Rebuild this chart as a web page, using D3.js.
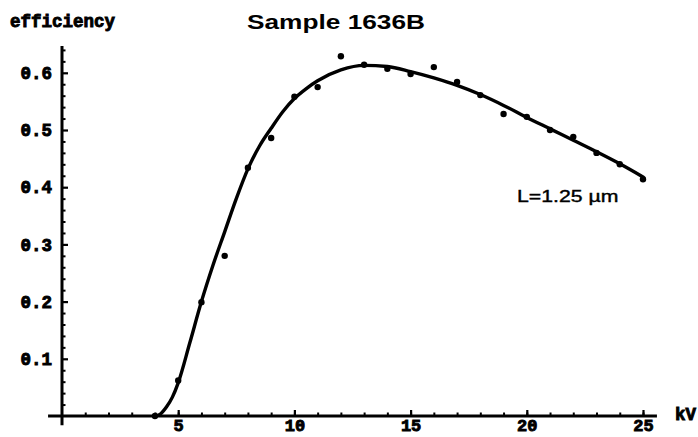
<!DOCTYPE html>
<html>
<head>
<meta charset="utf-8">
<script src="https://cdn.jsdelivr.net/npm/d3@7"></script>
<style>
  body { margin: 0; background: #fff; }
  svg { display: block; }
</style>
</head>
<body>
<script>
var w = 698;
var h = 437;

// measured points (kV, efficiency)
var pointKV  = [4, 5, 6, 7, 8, 9, 10, 11, 12, 13, 14, 15, 16, 17, 18, 19, 20, 21, 22, 23, 24, 25];
var pointEff = [0.0, 0.062, 0.199, 0.28, 0.434, 0.486, 0.558, 0.575, 0.629, 0.614, 0.607, 0.598,
                0.61, 0.584, 0.561, 0.528, 0.523, 0.5, 0.488, 0.46, 0.44, 0.414];

// fitted curve
var fitKV  = [4, 4.25, 4.5, 4.75, 5, 5.5, 6, 6.5, 7, 7.5, 8, 8.5, 9, 9.5, 10, 10.5, 11, 12, 13,
              14, 15, 16, 17, 18, 19, 20, 21, 22, 23, 24, 25];
var fitEff = [0.0, 0.004, 0.016, 0.033, 0.058, 0.128, 0.2, 0.264, 0.322, 0.38, 0.432, 0.472,
              0.503, 0.532, 0.555, 0.572, 0.586, 0.605, 0.613, 0.611, 0.602, 0.591, 0.578,
              0.562, 0.543, 0.522, 0.502, 0.482, 0.462, 0.441, 0.418];

var xMajor = [5, 10, 15, 20, 25];
var xMinor = d3.range(1, 26);
var yMajor = [0.1, 0.2, 0.3, 0.4, 0.5, 0.6];
var yMinor = [0.02, 0.04, 0.06, 0.08, 0.12, 0.14, 0.16, 0.18, 0.22, 0.24, 0.26, 0.28,
              0.32, 0.34, 0.36, 0.38, 0.42, 0.44, 0.46, 0.48, 0.52, 0.54, 0.56, 0.58, 0.62, 0.64];

var xScale = d3.scaleLinear().domain([0, 25]).range([62, 643]);
var yScale = d3.scaleLinear().domain([0, 0.6]).range([416, 72.8]);

var svg = d3.select("body")
    .append("svg")
    .attr("width", w)
    .attr("height", h);

var mono = "'Liberation Mono', 'DejaVu Sans Mono', monospace";
var sans = "'Liberation Sans', Arial, sans-serif";

// minor ticks
svg.append("g")
    .attr("transform", "translate(0," + yScale(0) + ")")
    .call(d3.axisBottom(xScale).tickValues(xMinor).tickSize(-3.5).tickFormat(""))
    .call(function(g) { g.select(".domain").remove(); })
    .selectAll("line").attr("stroke", "#000").attr("stroke-width", 2);

svg.append("g")
    .attr("transform", "translate(" + xScale(0) + ",0)")
    .call(d3.axisLeft(yScale).tickValues(yMinor).tickSize(-3.5).tickFormat(""))
    .call(function(g) { g.select(".domain").remove(); })
    .selectAll("line").attr("stroke", "#000").attr("stroke-width", 2);

// major ticks + labels
var xAxis = svg.append("g")
    .attr("transform", "translate(0," + yScale(0) + ")")
    .call(d3.axisBottom(xScale).tickValues(xMajor).tickSize(-6).tickPadding(15)
        .tickFormat(d3.format("d")));
xAxis.select(".domain").remove();
xAxis.selectAll("line").attr("stroke", "#000").attr("stroke-width", 2.2);
xAxis.selectAll("text")
    .attr("y", 15)
    .attr("dy", 0)
    .style("font-family", mono)
    .style("font-weight", "bold")
    .style("font-size", "17px")
    .attr("fill", "#000")
    .attr("stroke", "#000")
    .attr("stroke-width", 0.9);

var yAxis = svg.append("g")
    .attr("transform", "translate(" + xScale(0) + ",0)")
    .call(d3.axisLeft(yScale).tickValues(yMajor).tickSize(-6).tickPadding(10)
        .tickFormat(d3.format(".1f")));
yAxis.select(".domain").remove();
yAxis.selectAll("line").attr("stroke", "#000").attr("stroke-width", 2.2);
yAxis.selectAll("text")
    .style("font-family", mono)
    .style("font-weight", "bold")
    .style("font-size", "17.5px")
    .attr("fill", "#000")
    .attr("stroke", "#000")
    .attr("stroke-width", 0.9);

// axis lines
svg.append("line")
    .attr("x1", xScale(-0.6)).attr("x2", xScale(25.6))
    .attr("y1", yScale(0)).attr("y2", yScale(0))
    .attr("stroke", "#000").attr("stroke-width", 3);

svg.append("line")
    .attr("x1", xScale(0)).attr("x2", xScale(0))
    .attr("y1", yScale(-0.016)).attr("y2", yScale(0.647))
    .attr("stroke", "#000").attr("stroke-width", 3);

// fit curve
var line = d3.line()
    .x(function(d, i) { return xScale(fitKV[i]); })
    .y(function(d) { return yScale(d); })
    .curve(d3.curveMonotoneX);

svg.append("path")
    .datum(fitEff)
    .attr("d", line)
    .attr("fill", "none")
    .attr("stroke", "#000")
    .attr("stroke-width", 3.4)
    .attr("stroke-linejoin", "round")
    .attr("stroke-linecap", "round");

// points
svg.selectAll("circle")
    .data(pointEff)
    .enter()
    .append("circle")
    .attr("cx", function(d, i) { return xScale(pointKV[i]); })
    .attr("cy", function(d) { return yScale(d); })
    .attr("r", 3.2)
    .attr("fill", "#000");

// labels
svg.append("text")
    .attr("x", 10)
    .attr("y", 27)
    .text("efficiency")
    .style("font-family", mono)
    .style("font-weight", "bold")
    .style("font-size", "17.5px")
    .attr("stroke", "#000")
    .attr("stroke-width", 0.9);

svg.append("text")
    .attr("x", 675)
    .attr("y", 420)
    .text("kV")
    .style("font-family", mono)
    .style("font-weight", "bold")
    .style("font-size", "17.5px")
    .attr("stroke", "#000")
    .attr("stroke-width", 0.9);

svg.append("text")
    .attr("text-anchor", "middle")
    .attr("transform", "translate(336,29) scale(1.25,1)")
    .text("Sample 1636B")
    .style("font-family", sans)
    .style("font-weight", "bold")
    .style("font-size", "21px");

svg.append("text")
    .attr("transform", "translate(517,202) scale(1.25,1)")
    .text("L=1.25 \u00b5m")
    .style("font-family", sans)
    .style("font-size", "17px")
    .attr("stroke", "#000")
    .attr("stroke-width", 0.4);
</script>
</body>
</html>
